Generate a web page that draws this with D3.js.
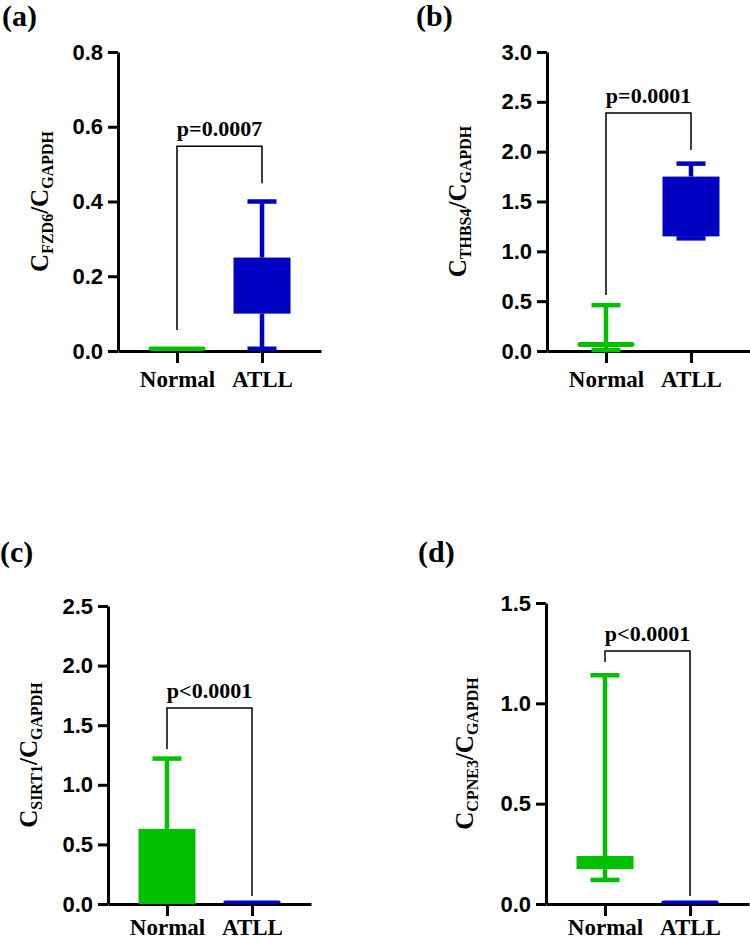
<!DOCTYPE html>
<html lang="en">
<head>
<meta charset="UTF-8">
<title>Relative expression, Normal vs ATLL</title>
<script src="https://cdn.jsdelivr.net/npm/d3@7"></script>
<style>
  body { margin: 0; background: #fff; }
  svg { display: block; }
</style>
</head>
<body>
<svg id="chart" width="750" height="943"></svg>
<script>
// ---- data ----
const groups = ["Normal", "ATLL"];
const panelTags = ["(a)", "(b)", "(c)", "(d)"];
const genes = ["FZD6", "THBS4", "SIRT1", "CPNE3"];
const yMax = [0.8, 3.0, 2.5, 1.5];
const yStep = [0.2, 0.5, 0.5, 0.5];
const pLabels = ["p=0.0007", "p=0.0001", "p<0.0001", "p<0.0001"];
// box stats [min, q1, q3, max]
const normalBox = [
  [0, 0, 0.012, 0.012],
  [0.01, 0.04, 0.09, 0.46],
  [0, 0, 0.63, 1.22],
  [0.12, 0.174, 0.239, 1.14]
];
const atllBox = [
  [0.006, 0.10, 0.25, 0.40],
  [1.13, 1.15, 1.75, 1.88],
  [0, 0, 0.03, 0.03],
  [0, 0, 0.018, 0.018]
];
// bracket: [top, left leg end, right leg end]
const brackets = [
  [0.548, 0.056, 0.449],
  [2.387, 0.562, 2.016],
  [1.644, 1.30, 0.067],
  [1.261, 1.206, 0.04]
];

const colors = { Normal: "#00c000", ATLL: "#0000c0" };

// ---- layout ----
const layout = [
  { x: 118, top: 52,  zero: 351, labelX: 41,  tagX: 2,   tagY: 26,  pad: 8 },
  { x: 547, top: 52,  zero: 351, labelX: 459, tagX: 416, tagY: 26,  pad: 8 },
  { x: 108, top: 606, zero: 904, labelX: 30,  tagX: 0,   tagY: 562, pad: 3 },
  { x: 546, top: 603, zero: 904, labelX: 466, tagX: 418, tagY: 562, pad: 3 }
];
const axisW = 203, boxW = 57, capW = 29;
const serif = "'Liberation Serif', 'Times New Roman', serif";
const sans = "'Liberation Sans', Arial, sans-serif";

const svg = d3.select("#chart");

layout.forEach(function(L, i) {
  const g = svg.append("g");

  const y = d3.scaleLinear().domain([0, yMax[i]]).range([L.zero, L.top]);
  const x = d3.scalePoint().domain(groups).range([L.x, L.x + axisW]).padding(0.694);

  // panel tag
  g.append("text")
    .attr("x", L.tagX).attr("y", L.tagY)
    .attr("font-family", serif).attr("font-weight", "bold").attr("font-size", 30)
    .text(panelTags[i]);

  // y axis
  const ticks = d3.range(0, yMax[i] + yStep[i] / 2, yStep[i]);
  const yAx = g.append("g")
    .attr("transform", "translate(" + L.x + ",0)")
    .call(d3.axisLeft(y).tickValues(ticks).tickFormat(d3.format(".1f"))
      .tickSize(10).tickSizeOuter(0).tickPadding(5));
  yAx.select(".domain").attr("stroke-width", 3);
  yAx.selectAll(".tick line").attr("stroke-width", 3);
  yAx.selectAll(".tick text")
    .attr("font-family", sans).attr("font-weight", "bold").attr("font-size", 22).attr("fill", "#000");

  // x axis
  const xAx = g.append("g")
    .attr("transform", "translate(0," + L.zero + ")")
    .call(d3.axisBottom(x).tickSize(12).tickSizeOuter(0).tickPadding(L.pad));
  xAx.select(".domain").attr("stroke-width", 3);
  xAx.selectAll(".tick line").attr("stroke-width", 3);
  xAx.selectAll(".tick text")
    .attr("font-family", serif).attr("font-weight", "bold").attr("font-size", 23).attr("fill", "#000");

  // y label: C_gene / C_GAPDH
  const mid = (L.top + L.zero) / 2;
  const lab = g.append("text")
    .attr("transform", "translate(" + (L.labelX + 7) + "," + mid + ") rotate(-90)")
    .attr("text-anchor", "middle")
    .attr("font-family", serif).attr("font-weight", "bold").attr("font-size", 25);
  lab.append("tspan").text("C");
  lab.append("tspan").attr("font-size", 16).attr("dy", 5).text(genes[i]);
  lab.append("tspan").attr("dy", -5).text("/C");
  lab.append("tspan").attr("font-size", 16).attr("dy", 5).text("GAPDH");

  // boxes and whiskers
  const stats = [normalBox[i], atllBox[i]];
  groups.forEach(function(grp, k) {
    const s = stats[k];
    const cx = x(grp);
    const col = colors[grp];
    const bg = g.append("g");
    if (s[3] > s[2]) {
      bg.append("line").attr("x1", cx).attr("x2", cx).attr("y1", y(s[2])).attr("y2", y(s[3]))
        .attr("stroke", col).attr("stroke-width", 4.5);
      bg.append("line").attr("x1", cx - capW / 2).attr("x2", cx + capW / 2)
        .attr("y1", y(s[3])).attr("y2", y(s[3])).attr("stroke", col).attr("stroke-width", 4.5);
    }
    if (s[0] < s[1]) {
      bg.append("line").attr("x1", cx).attr("x2", cx).attr("y1", y(s[1])).attr("y2", y(s[0]))
        .attr("stroke", col).attr("stroke-width", 4.5);
      bg.append("line").attr("x1", cx - capW / 2).attr("x2", cx + capW / 2)
        .attr("y1", y(s[0])).attr("y2", y(s[0])).attr("stroke", col).attr("stroke-width", 4.5);
    }
    const h = Math.max(y(s[1]) - y(s[2]), 3);
    bg.append("rect")
      .attr("x", cx - boxW / 2).attr("width", boxW)
      .attr("y", y(s[1]) - h).attr("height", h)
      .attr("rx", h < 8 ? h / 2 : 0)
      .attr("fill", col);
  });

  // significance bracket
  const b = brackets[i];
  const xl = x(groups[0]), xr = x(groups[1]);
  g.append("path")
    .attr("d", "M" + xl + "," + y(b[1]) + "V" + y(b[0]) + "H" + xr + "V" + y(b[2]))
    .attr("fill", "none").attr("stroke", "#000").attr("stroke-width", 1.5);
  g.append("text")
    .attr("x", (xl + xr) / 2).attr("y", y(b[0]) - 10)
    .attr("text-anchor", "middle")
    .attr("font-family", serif).attr("font-weight", "bold").attr("font-size", 22)
    .text(pLabels[i]);
});
</script>
</body>
</html>
